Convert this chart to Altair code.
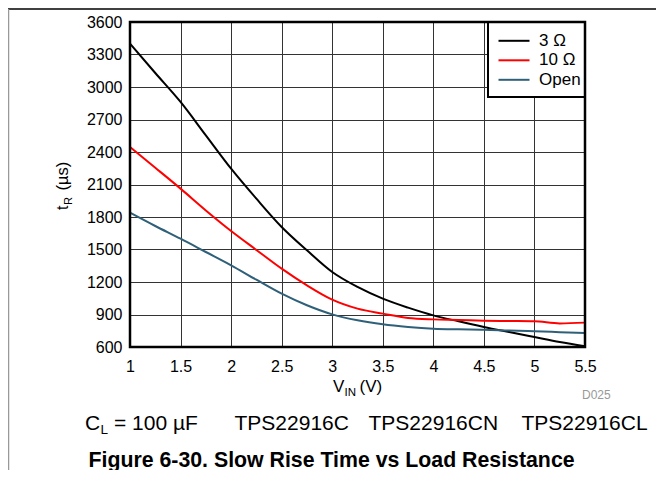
import altair as alt
import pandas as pd

# ---- data ----
vin = [1.0, 1.25, 1.5, 1.75, 2.0, 2.25, 2.5, 2.75, 3.0, 3.25, 3.5, 3.75,
       4.0, 4.25, 4.5, 4.75, 5.0, 5.25, 5.5]
tr_3ohm = [3400, 3129, 2862, 2554, 2246, 1969, 1708, 1492, 1292, 1154, 1046, 963,
           892, 837, 785, 738, 692, 646, 606]
tr_10ohm = [2446, 2255, 2062, 1861, 1671, 1496, 1323, 1169, 1037, 954, 908, 868,
            855, 850, 843, 840, 837, 818, 825]
tr_open = [1840, 1717, 1600, 1477, 1354, 1221, 1092, 985, 901, 846, 809, 785,
           769, 763, 760, 752, 745, 737, 729]
series_names = ["3 Ω", "10 Ω", "Open"]
series_colors = ["#000000", "#ff0000", "#2f6079"]
x_ticks = [1, 1.5, 2, 2.5, 3, 3.5, 4, 4.5, 5, 5.5]
y_ticks = [600, 900, 1200, 1500, 1800, 2100, 2400, 2700, 3000, 3300, 3600]

rows = []
for name, vals in zip(series_names, [tr_3ohm, tr_10ohm, tr_open]):
    for v, t in zip(vin, vals):
        rows.append({"vin": v, "tr": t, "series": name})
df = pd.DataFrame(rows)

W, H = 455, 325
PAD_L, PAD_T, PAD_R, PAD_B = 122, 14, 71, 123
FONT = "Liberation Sans"
one = alt.InlineData(values=[{}])

axis_common = dict(title=None, grid=True, ticks=False, domain=False, labelFlush=False,
                   gridColor="#333333", gridWidth=1, gridOpacity=1,
                   labelFont=FONT, labelFontSize=16, labelColor="black")

lines = alt.Chart(df).mark_line(strokeWidth=2, interpolate="monotone").encode(
    x=alt.X("vin:Q",
            scale=alt.Scale(domain=[1, 5.5], nice=False, zero=False),
            axis=alt.Axis(values=x_ticks, format="~g", labelPadding=11, **axis_common)),
    y=alt.Y("tr:Q",
            scale=alt.Scale(domain=[600, 3600], nice=False, zero=False),
            axis=alt.Axis(values=y_ticks, format="d", labelPadding=8, **axis_common)),
    color=alt.Color("series:N",
                    scale=alt.Scale(domain=series_names, range=series_colors),
                    sort=series_names,
                    legend=alt.Legend(title=None, orient="none", legendX=368, legendY=10.3,
                                      padding=0, rowPadding=1.5,
                                      symbolType="M-2,0H5.75", symbolSize=64,
                                      symbolStrokeWidth=2, labelOffset=24,
                                      labelFont=FONT, labelFontSize=17,
                                      labelColor="black")),
)

# legend frame (white box with black border, top-right of plot)
legend_box = alt.Chart(one).mark_rect(fill="white", stroke="black", strokeWidth=2).encode(
    x=alt.value(358), x2=alt.value(W), y=alt.value(0), y2=alt.value(75))

border = alt.Chart(one).mark_rect(filled=False, stroke="black", strokeWidth=2.5).encode(
    x=alt.value(0), x2=alt.value(W), y=alt.value(0), y2=alt.value(H))

frame_top = alt.Chart(one).mark_rule(color="black", strokeWidth=1.5).encode(
    x=alt.value(-PAD_L), x2=alt.value(W + PAD_R), y=alt.value(-13))
frame_left = alt.Chart(one).mark_rule(color="#999999", strokeWidth=1.5).encode(
    x=alt.value(-PAD_L + 0.5), y=alt.value(-13), y2=alt.value(H + PAD_B))


def txt(s, x, y, size, color="black", weight="normal", angle=0, align="left"):
    return alt.Chart(one).mark_text(
        text=s, fontSize=size, font=FONT, fontWeight=weight, color=color,
        align=align, baseline="alphabetic", angle=angle
    ).encode(x=alt.value(x), y=alt.value(y))


texts = [
    # x-axis title V_IN (V)
    txt("V", 203, 370, 17),
    txt("IN", 214.5, 374, 11.5),
    txt("(V)", 229.5, 370, 17),
    # y-axis title t_R (µs)
    txt("t", -62, 188, 16, angle=270),
    txt("R", -58.5, 183, 11, angle=270),
    txt("(µs)", -62, 168.5, 16.5, angle=270),
    # figure id
    txt("D025", 452, 377, 12, color="#999999"),
    # conditions line
    txt("C", -45, 408, 21),
    txt("L", -29.5, 412, 13.5),
    txt("= 100 µF", -16, 408, 21),
    txt("TPS22916C", 104.5, 408, 21),
    txt("TPS22916CN", 238.5, 408, 21),
    txt("TPS22916CL", 391.5, 408, 21),
    # caption
    txt("Figure 6-30. Slow Rise Time vs Load Resistance", -41.5, 444.5, 21.3, weight="bold"),
]

chart = alt.layer(lines, legend_box, border, frame_top, frame_left, *texts).properties(
    width=W, height=H,
    padding={"left": PAD_L, "top": PAD_T, "right": PAD_R, "bottom": PAD_B},
    autosize=alt.AutoSizeParams(type="none"),
).configure_view(stroke=None)

chart.save("out.html", embed_options={"renderer": "svg", "actions": False})
